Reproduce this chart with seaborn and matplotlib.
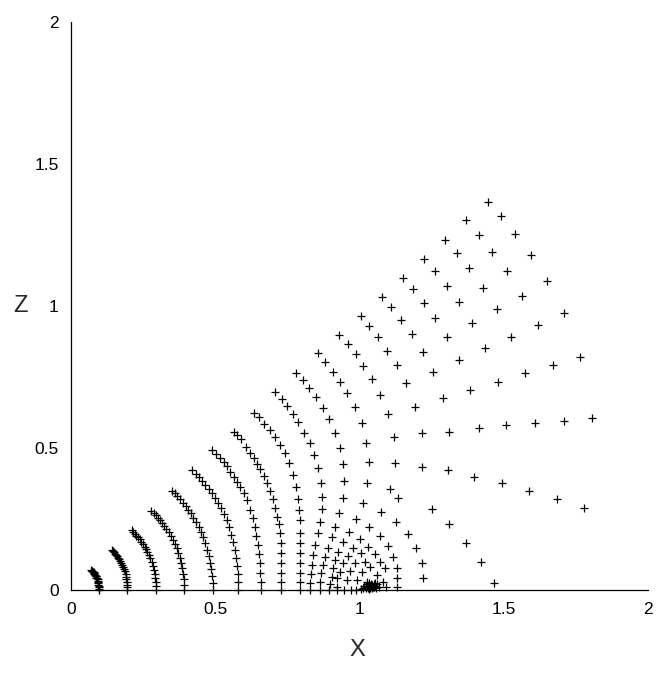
import matplotlib
matplotlib.use("Agg")
import matplotlib.pyplot as plt
import seaborn as sns
import pandas as pd

# ---------------- data ----------------
arc1_x = [.070,.072,.074,.076,.078,.079,.081,.083,.085,.087,.088,.090,.092,.093,.094,.095,.095,.096,.096,.096,.096]
arc1_z = [.070,.068,.066,.064,.062,.059,.057,.054,.051,.048,.044,.041,.037,.033,.029,.024,.019,.014,.010,.005,0]

arc2_x = [.141,.145,.148,.152,.156,.159,.163,.167,.170,.174,.177,.180,.184,.187,.189,.191,.192,.193,.193,.193,.193]
arc2_z = [.141,.137,.133,.128,.124,.119,.114,.108,.102,.096,.089,.082,.074,.066,.057,.047,.038,.029,.019,.009,0]

arc3_x = [.210,.216,.221,.227,.233,.238,.244,.249,.255,.260,.265,.270,.275,.280,.284,.287,.290,.292,.294,.295,.295]
arc3_z = [.210,.204,.198,.191,.185,.178,.170,.162,.153,.144,.134,.123,.111,.098,.085,.072,.058,.044,.029,.014,0]

arc4_x = [.279,.287,.294,.302,.309,.317,.324,.331,.339,.346,.353,.360,.366,.372,.378,.382,.386,.388,.390,.392,.392]
arc4_z = [.279,.271,.263,.255,.246,.236,.226,.215,.203,.191,.177,.163,.148,.131,.114,.096,.077,.058,.039,.019,0]

arc5_x = [.350,.360,.369,.378,.388,.397,.406,.415,.424,.433,.442,.450,.458,.466,.472,.478,.483,.486,.489,.491,.491]
arc5_z = [.350,.340,.330,.319,.308,.296,.283,.270,.255,.239,.222,.204,.185,.164,.142,.120,.096,.073,.048,.024,0]

arc6_x = [.421,.432,.444,.455,.466,.477,.488,.499,.510,.521,.531,.539,.547,.555,.561,.568,.572,.576,.578,.579,.580]
arc6_z = [.421,.409,.397,.384,.370,.356,.340,.324,.306,.288,.267,.245,.221,.195,.169,.142,.114,.086,.057,.028,0]

arc7_x = [.488,.503,.517,.529,.541,.552,.564,.575,.587,.599,.610,.622,.630,.637,.642,.647,.651,.654,.656,.657,.659]
arc7_z = [.493,.479,.465,.452,.437,.417,.399,.381,.362,.340,.317,.282,.252,.223,.190,.158,.127,.094,.061,.029,0]

arc8_x = [.564,.577,.590,.607,.622,.633,.645,.656,.668,.679,.691,.699,.706,.714,.720,.726,.727,.729,.729,.729,.729,.729]
arc8_z = [.557,.545,.531,.505,.483,.464,.444,.426,.401,.376,.350,.319,.288,.258,.232,.202,.167,.129,.094,.061,.029,0]

arc9_x = [.635,.653,.668,.689,.706,.723,.741,.755,.770,.780,.787,.792,.793,.794,.794,.794,.794,.794,.794,.794]
arc9_z = [.624,.610,.585,.563,.538,.511,.481,.446,.405,.362,.319,.282,.246,.202,.164,.129,.094,.061,.029,0]

arc10_x = [.707,.730,.750,.771,.788,.808,.828,.843,.857,.866,.869,.869,.863,.857,.846,.840,.834,.831,.828,.828]
arc10_z = [.698,.671,.648,.620,.590,.554,.516,.475,.428,.378,.329,.284,.241,.200,.158,.123,.088,.056,.025,0]

arc11_x = [.780,.805,.826,.849,.875,.895,.915,.934,.944,.947,.944,.930,.915,.906,.892,.880,.875,.866,.863,.863]
arc11_z = [.765,.739,.710,.678,.640,.601,.552,.499,.442,.385,.323,.270,.223,.188,.147,.117,.088,.059,.029,0]

arc12_x = [.857,.880,.907,.932,.958,.986,1.008,1.023,1.034,1.027,1.011,.988,.965,.944,.927,.915,.909,.903,.897,.895]
arc12_z = [.833,.804,.769,.733,.693,.644,.587,.519,.450,.376,.305,.250,.203,.168,.133,.106,.076,.045,.022,0]

arc13_x = [.930,.959,.987,1.013,1.044,1.071,1.100,1.121,1.123]
arc13_z = [.898,.865,.830,.790,.742,.685,.620,.538,.446]
arc14_x = [1.004,1.034,1.065,1.096,1.131,1.162,1.193,1.216,1.216]
arc14_z = [.965,.930,.892,.843,.792,.729,.645,.552,.434]
arc15_x = [1.077,1.109,1.144,1.181,1.219,1.256,1.291,1.311,1.308]
arc15_z = [1.031,.995,.951,.900,.839,.767,.675,.557,.421]
arc16_x = [1.152,1.187,1.225,1.263,1.304,1.346,1.383,1.413,1.398]
arc16_z = [1.098,1.059,1.009,.957,.890,.809,.704,.569,.399]
arc17_x = [1.225,1.263,1.304,1.346,1.391,1.436,1.481,1.509,1.495]
arc17_z = [1.164,1.122,1.071,1.013,.939,.851,.733,.580,.377]
arc18_x = [1.296,1.339,1.381,1.429,1.478,1.526,1.575,1.609,1.587]
arc18_z = [1.232,1.186,1.133,1.064,.988,.890,.763,.587,.348]
arc19_x = [1.369,1.414,1.460,1.512,1.564,1.620,1.672,1.710,1.684]
arc19_z = [1.302,1.249,1.191,1.122,1.036,.932,.791,.594,.319]
arc20_x = [1.447,1.490,1.539,1.594,1.650,1.710,1.765,1.807,1.779]
arc20_z = [1.367,1.317,1.252,1.178,1.088,.974,.821,.605,.290]

right_low_x = [1.311,1.369,1.421,1.467]
right_low_z = [.232,.167,.100,.026]

near_focus_x = [1.106,1.133,1.073,1.250,1.125,1.034,1.167,1.071,1.002,1.100,1.196,1.031,.979,1.054,
                1.117,1.216,.961,1.004,1.019,1.071,1.129,.944,.984,1.036,1.088,.932,.967,1.008,1.060,
                1.129,1.219,.921,.956,.990,1.025,1.083,.923,.923,.947,.969,.988,1.005,1.021,1.036,1.051,
                1.069,1.092,1.129,1.028,1.040,1.045,1.033,1.050,1.015,1.060]
near_focus_z = [.355,.324,.276,.284,.241,.223,.197,.191,.180,.155,.147,.153,.147,.127,
                .115,.096,.120,.129,.100,.100,.076,.094,.094,.082,.076,.065,.068,.065,.053,
                .041,.041,.041,.035,.035,.029,.029,.012,0,0,0,0,.004,.006,.008,.010,
                .012,.012,.012,.014,.018,.006,.003,.020,.015,.020]

# tight knot of overlapping points right at the focus
focus_knot_x = [1.022,1.030,1.038,1.043,1.048,1.055,1.026,1.034,1.041,1.052,1.012,1.058]
focus_knot_z = [.010,.008,.012,.016,.010,.014,.020,.024,.022,.026,.008,.008]

tick_values = [0, 0.5, 1, 1.5, 2]
tick_labels = ["0", "0.5", "1", "1.5", "2"]

groups = [
    (arc1_x, arc1_z), (arc2_x, arc2_z), (arc3_x, arc3_z), (arc4_x, arc4_z),
    (arc5_x, arc5_z), (arc6_x, arc6_z), (arc7_x, arc7_z), (arc8_x, arc8_z),
    (arc9_x, arc9_z), (arc10_x, arc10_z), (arc11_x, arc11_z), (arc12_x, arc12_z),
    (arc13_x, arc13_z), (arc14_x, arc14_z), (arc15_x, arc15_z), (arc16_x, arc16_z),
    (arc17_x, arc17_z), (arc18_x, arc18_z), (arc19_x, arc19_z), (arc20_x, arc20_z),
    (right_low_x, right_low_z), (near_focus_x, near_focus_z), (focus_knot_x, focus_knot_z),
]
frames = [pd.DataFrame({"X": gx, "Z": gz}) for gx, gz in groups]
df = pd.concat(frames, ignore_index=True)

# ---------------- drawing ----------------
sns.set_style("white")
plt.rcParams["font.family"] = ["Liberation Sans", "DejaVu Sans"]

fig = plt.figure(figsize=(6.67, 6.75), dpi=100)
ax = fig.add_axes([71/667, 1-590/675, 577/667, 568/675])

sns.scatterplot(data=df, x="X", y="Z", marker="+", color="black", s=32,
                linewidth=0.9, clip_on=False, ax=ax, legend=False)

ax.set_xlim(0, 2)
ax.set_ylim(0, 2)
ax.set_xticks(tick_values)
ax.set_xticklabels(tick_labels)
ax.set_yticks(tick_values)
ax.set_yticklabels(tick_labels)

for side in ("top", "right"):
    ax.spines[side].set_visible(False)
for side in ("left", "bottom"):
    ax.spines[side].set_color("black")
    ax.spines[side].set_linewidth(0.9)

ax.tick_params(axis="x", direction="inout", length=10, width=0.8, pad=4,
               labelsize=12.5, colors="black")
ax.tick_params(axis="y", direction="in", length=4.5, width=0.8, pad=9,
               labelsize=12.5, colors="black")

ax.set_xlabel("X", fontsize=17)
ax.set_ylabel("Z", fontsize=17, rotation=0)
ax.xaxis.set_label_coords(0.497, -0.106)
ax.xaxis.label.set_va("center")
ax.yaxis.set_label_coords(-0.087, 0.5)
ax.yaxis.label.set_va("center")
ax.yaxis.label.set_ha("center")

fig.savefig("out.png", dpi=100)
